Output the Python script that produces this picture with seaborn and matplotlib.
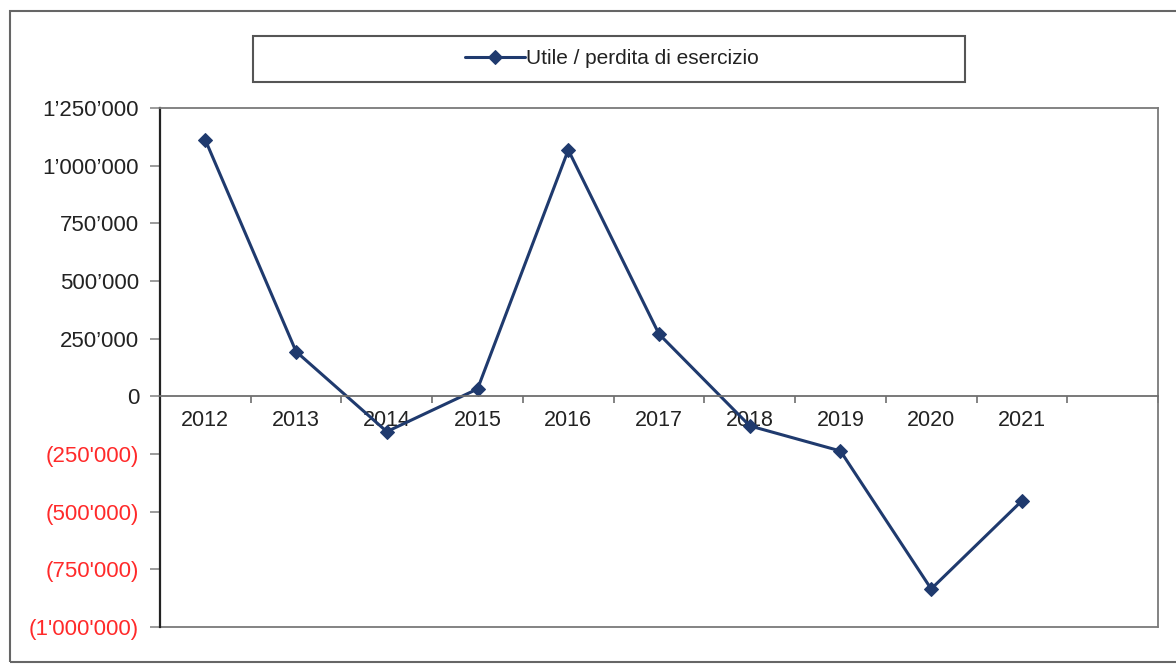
import numpy as np
import pandas as pd
import matplotlib
matplotlib.use("Agg")
import matplotlib.pyplot as plt
import seaborn as sns
from matplotlib.patches import Rectangle
from matplotlib.ticker import FixedLocator, NullFormatter

# dati
anni = ["2012", "2013", "2014", "2015", "2016", "2017", "2018", "2019", "2020", "2021"]
utile = [1111000, 194000, -153000, 32000, 1068000, 270000, -128000, -237000, -835000, -453000]
serie = "Utile / perdita di esercizio"
y_ticks = [1250000, 1000000, 750000, 500000, 250000, 0, -250000, -500000, -750000, -1000000]
n_slot = 11  # l'asse ha una categoria vuota dopo il 2021

def formato(v):
    s = f"{abs(v):,}".replace(",", "'")
    if v < 0:
        return f"({s})"
    return s.replace("'", "\u2019")

df = pd.DataFrame({"pos": np.arange(len(anni)), "valore": utile})

sns.set_theme(style="white")
plt.rcParams["font.family"] = ["Liberation Sans", "DejaVu Sans"]

blu = "#1f3a6e"
grigio = "#7a7a7a"

fig = plt.figure(figsize=(11.76, 6.66), dpi=100)
ax = fig.add_axes([160 / 1176, 39 / 666, 998 / 1176, 519 / 666])

sns.lineplot(data=df, x="pos", y="valore", ax=ax, color=blu, linewidth=2.2,
             marker="D", markersize=7, markeredgecolor=blu, label=serie, legend=False)

ax.set_xlim(-0.5, n_slot - 0.5)
ax.set_ylim(-1000000, 1250000)
ax.set_xlabel("")
ax.set_ylabel("")

# asse x sulla linea dello zero, tacche tra le categorie
ax.spines["bottom"].set_position(("data", 0))
ax.spines["bottom"].set_color("#6e6e6e")
ax.spines["bottom"].set_linewidth(1.3)
ax.spines["left"].set_color("#222222")
ax.spines["left"].set_linewidth(1.6)
for s in ["top", "right"]:
    ax.spines[s].set_color(grigio)
    ax.spines[s].set_linewidth(1.3)
ax.plot([0, 1], [0, 0], transform=ax.transAxes, color=grigio, lw=1.3, clip_on=False)

ax.xaxis.set_major_locator(FixedLocator(np.arange(n_slot) + 0.5))
ax.xaxis.set_major_formatter(NullFormatter())
ax.xaxis.set_minor_locator(FixedLocator(np.arange(len(anni))))
ax.set_xticklabels(anni, minor=True)
ax.tick_params(axis="x", which="major", direction="out", length=5, width=1.2, color="#6e6e6e", bottom=True)
ax.tick_params(axis="x", which="minor", length=0, pad=10, labelsize=15.5, labelcolor="#222222")

ax.set_yticks(y_ticks)
ax.set_yticklabels([formato(v) for v in y_ticks])
ax.tick_params(axis="y", direction="out", length=7, width=1.2, color="#8a8a8a", left=True, pad=8, labelsize=16)
for lab, v in zip(ax.get_yticklabels(), y_ticks):
    lab.set_color("#ff2a2a" if v < 0 else "#222222")

# cornice esterna e riquadro della legenda
fig.patches.append(Rectangle((10 / 1176, 4 / 666), 1.2, 651 / 666, transform=fig.transFigure,
                             fill=False, edgecolor="#666666", lw=1.5, figure=fig))
fig.patches.append(Rectangle((253 / 1176, 584 / 666), 712 / 1176, 46 / 666, transform=fig.transFigure,
                             fill=False, edgecolor="#555555", lw=1.5, figure=fig))

handles, labels = ax.get_legend_handles_labels()
fig.legend(handles, labels, loc="center", bbox_to_anchor=(612 / 1176, 607 / 666), frameon=False,
           fontsize=15, handlelength=2.9, handletextpad=0.05, labelcolor="#222222")

fig.savefig("out.png", dpi=100, facecolor="white")
